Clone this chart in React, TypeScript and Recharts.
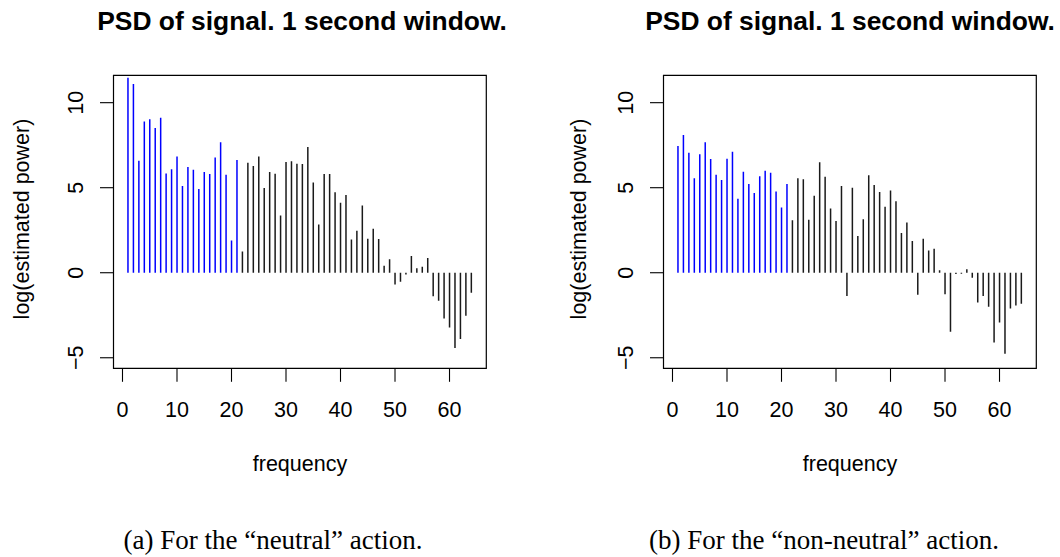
import React from 'react';
import { BarChart, Bar, Cell, XAxis, YAxis, ReferenceArea } from 'recharts';

// frequency bins (Hz) and log power estimates
const frequencies = [
  1, 2, 3, 4, 5, 6, 7, 8, 9, 10, 11, 12, 13, 14, 15, 16,
  17, 18, 19, 20, 21, 22, 23, 24, 25, 26, 27, 28, 29, 30, 31, 32,
  33, 34, 35, 36, 37, 38, 39, 40, 41, 42, 43, 44, 45, 46, 47, 48,
  49, 50, 51, 52, 53, 54, 55, 56, 57, 58, 59, 60, 61, 62, 63, 64,
];

const neutralPower = [
  11.47, 11.1, 6.59, 8.9, 9.02, 8.51, 9.12, 5.84, 6.08, 6.84,
  5.1, 6.22, 6.06, 4.92, 5.92, 5.8, 6.78, 7.67, 5.76, 1.9,
  6.63, 1.25, 6.47, 6.27, 6.84, 4.98, 5.92, 5.82, 3.37, 6.51,
  6.55, 6.41, 6.39, 7.39, 5.31, 2.84, 5.8, 5.8, 4.73, 4.12,
  4.57, 1.96, 2.47, 3.96, 2.0, 2.59, 1.98, 0.41, 0.8, -0.69,
  -0.53, -0.1, 0.98, 0.27, 0.35, 0.86, -1.39, -1.65, -2.69, -3.22,
  -4.43, -3.9, -2.53, -1.18,
];

const nonNeutralPower = [
  7.45, 8.1, 7.06, 5.55, 6.96, 7.67, 6.69, 5.76, 5.45, 6.71,
  7.12, 4.35, 5.94, 5.22, 4.69, 5.67, 6.0, 5.88, 4.78, 3.84,
  5.22, 3.08, 5.55, 5.49, 3.12, 4.53, 6.49, 5.65, 3.78, 3.04,
  5.1, -1.37, 5.0, 2.16, 3.14, 5.73, 5.16, 4.75, 3.88, 4.84,
  4.2, 2.33, 2.96, 1.86, -1.29, 2.0, 1.31, 1.41, 0.14, -1.27,
  -3.47, -0.08, -0.06, 0.2, -0.29, -1.75, -1.37, -2.0, -4.1, -2.92,
  -4.76, -2.1, -1.92, -1.82,
];

const xTicks = [0, 10, 20, 30, 40, 50, 60];
const yTicks = [-5, 0, 5, 10];
const lastBlueFreq = 21;

const titleText = 'PSD of signal. 1 second window.';
const xLabel = 'frequency';
const yLabel = 'log(estimated power)';
const captionA = '(a) For the \u201cneutral\u201d action.';
const captionB = '(b) For the \u201cnon-neutral\u201d action.';

const X_DOMAIN: [number, number] = [-1.65, 66.75];
const Y_DOMAIN: [number, number] = [-5.62, 11.61];

const SANS = '"Liberation Sans", Arial, Helvetica, sans-serif';
const SERIF = '"Liberation Serif", "Times New Roman", Times, serif';
const FS = 21.5;

function fmt(v: number) {
  return v < 0 ? '\u2212' + Math.abs(v) : String(v);
}

function YTick(props: any) {
  const { x, y, payload } = props;
  const bx = x - 17;
  return (
    <text
      x={bx}
      y={y}
      transform={`rotate(-90, ${bx}, ${y})`}
      textAnchor='middle'
      fontFamily={SANS}
      fontSize={FS}
      fill='#000'
    >
      {fmt(payload.value)}
    </text>
  );
}

function XTick(props: any) {
  const { x, y, payload } = props;
  return (
    <text x={x} y={y + 35.5} textAnchor='middle' fontFamily={SANS} fontSize={FS} fill='#000'>
      {fmt(payload.value)}
    </text>
  );
}

function PsdPanel({ left, width, power }: { left: number; width: number; power: number[] }) {
  const data = frequencies.map((f, i) => ({ freq: f, power: power[i] }));
  return (
    <div style={{ position: 'absolute', left, top: 0 }}>
      <BarChart
        width={width}
        height={557}
        data={data}
        margin={{ top: 75.3, right: width - 486.3, bottom: 557 - 368.3 - 40, left: 113.5 - 60 }}
      >
        <XAxis
          type='number'
          dataKey='freq'
          domain={X_DOMAIN}
          ticks={xTicks}
          interval={0}
          allowDataOverflow
          axisLine={false}
          tickLine={{ stroke: '#000', strokeWidth: 1.1 }}
          tickSize={13.5}
          tickMargin={0}
          height={40}
          tick={(p: any) => <XTick {...p} />}
        />
        <YAxis
          type='number'
          domain={Y_DOMAIN}
          ticks={yTicks}
          interval={0}
          allowDataOverflow
          axisLine={false}
          tickLine={{ stroke: '#000', strokeWidth: 1.1 }}
          tickSize={13.5}
          tickMargin={0}
          width={60}
          tick={(p: any) => <YTick {...p} />}
        />
        <Bar dataKey='power' barSize={1.5} isAnimationActive={false}>
          {data.map((d, i) => (
            <Cell key={`cell-${i}`} fill={d.freq <= lastBlueFreq ? '#0000ff' : '#1a1a1a'} />
          ))}
        </Bar>
        <ReferenceArea
          x1={X_DOMAIN[0]}
          x2={X_DOMAIN[1]}
          y1={Y_DOMAIN[0]}
          y2={Y_DOMAIN[1]}
          fill='none'
          fillOpacity={0}
          stroke='#000'
          strokeWidth={1.2}
          ifOverflow='visible'
        />
      </BarChart>
    </div>
  );
}

function App() {
  return (
    <div style={{ position: 'absolute', left: 0, top: 0, width: 1060, height: 557, background: '#fff' }}>
      <PsdPanel left={0} width={530} power={neutralPower} />
      <PsdPanel left={550} width={510} power={nonNeutralPower} />
      <svg
        width={1060}
        height={557}
        style={{ position: 'absolute', left: 0, top: 0, pointerEvents: 'none' }}
      >
        <text x={302} y={30} textAnchor='middle' fontFamily={SANS} fontWeight='bold' fontSize={26.4} fill='#000'>
          {titleText}
        </text>
        <text x={850} y={30} textAnchor='middle' fontFamily={SANS} fontWeight='bold' fontSize={26.4} fill='#000'>
          {titleText}
        </text>
        <text
          x={29}
          y={219}
          transform='rotate(-90, 29, 219)'
          textAnchor='middle'
          fontFamily={SANS}
          fontSize={FS}
          fill='#000'
        >
          {yLabel}
        </text>
        <text
          x={586}
          y={219}
          transform='rotate(-90, 586, 219)'
          textAnchor='middle'
          fontFamily={SANS}
          fontSize={FS}
          fill='#000'
        >
          {yLabel}
        </text>
        <text x={300} y={470.5} textAnchor='middle' fontFamily={SANS} fontSize={FS} fill='#000'>
          {xLabel}
        </text>
        <text x={850} y={470.5} textAnchor='middle' fontFamily={SANS} fontSize={FS} fill='#000'>
          {xLabel}
        </text>
        <text x={273} y={548.5} textAnchor='middle' fontFamily={SERIF} fontSize={27} fill='#000'>
          {captionA}
        </text>
        <text x={824} y={548.5} textAnchor='middle' fontFamily={SERIF} fontSize={27} fill='#000'>
          {captionB}
        </text>
      </svg>
    </div>
  );
}

export default App;
